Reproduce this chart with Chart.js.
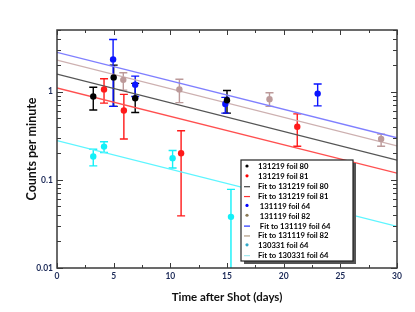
<!DOCTYPE html>
<html>
<head>
<meta charset="utf-8">
<script src="https://cdn.jsdelivr.net/npm/chart.js@4"></script>
<style>
  body { margin: 0; background: #fff; }
  canvas { display: block; }
</style>
</head>
<body>
<canvas id="decayChart" width="415" height="312"></canvas>
<script>
// data
const xTicks = [0, 5, 10, 15, 20, 25, 30];
const yTicks = [0.01, 0.1, 1];

const f80X = [3.2, 5.0, 6.9, 15.0];
const f80Y = [0.88, 1.45, 0.84, 0.80];
const f80Lo = [0.62, 0.68, 0.58, 0.57];
const f80Hi = [1.12, 2.0, 1.24, 1.03];

const f81X = [4.15, 5.9, 10.95, 21.2];
const f81Y = [1.06, 0.61, 0.20, 0.40];
const f81Lo = [0.74, 0.29, 0.039, 0.24];
const f81Hi = [1.40, 0.93, 0.36, 0.56];

const f64X = [4.95, 6.9, 14.85, 23.0];
const f64Y = [2.32, 1.20, 0.725, 0.95];
const f64Lo = [0.68, 0.88, 0.57, 0.69];
const f64Hi = [3.9, 1.5, 0.86, 1.22];

const f82X = [5.85, 10.8, 18.75, 28.6];
const f82Y = [1.36, 1.06, 0.82, 0.29];
const f82Lo = [1.04, 0.75, 0.68, 0.24];
const f82Hi = [1.64, 1.38, 0.97, 0.33];

const c64X = [3.2, 4.15, 10.2, 15.35];
const c64Y = [0.184, 0.238, 0.176, 0.038];
const c64Lo = [0.144, 0.204, 0.136, 0.001];
const c64Hi = [0.222, 0.27, 0.215, 0.078];

const fitX = [0, 30];
const fit80 = [1.58, 0.167];
const fit81 = [1.10, 0.119];
const fit64 = [2.79, 0.30];
const fit82 = [2.28, 0.243];
const fit130 = [0.279, 0.0296];

const FONT = 'Lato, "Open Sans", sans-serif';
const NAVY = '#1c2a58';

function pts(xs, ys) {
    return xs.map((x, i) => ({ x: x, y: ys[i] }));
}

function points(label, xs, ys, lo, hi, color, legendColor) {
    return {
        type: 'scatter', label: label, data: pts(xs, ys),
        lo: lo, hi: hi, barColor: color, legendColor: legendColor || color,
        backgroundColor: color, borderWidth: 0, pointRadius: 3.2, order: 1
    };
}

function fit(label, ys, color, legendColor) {
    return {
        type: 'line', label: label, data: pts(fitX, ys), isFit: true,
        legendColor: legendColor || color,
        borderColor: color, borderWidth: 1.3, pointRadius: 0, fill: false, order: 2
    };
}

// error bars, frame and inward ticks
const errorBars = {
    id: 'errorBars',
    beforeDatasetsDraw(chart) {
        const { ctx, chartArea: a, scales: { x, y } } = chart;
        ctx.save();
        ctx.beginPath();
        ctx.rect(a.left, a.top, a.right - a.left, a.bottom - a.top);
        ctx.clip();
        chart.data.datasets.forEach(ds => {
            if (!ds.lo) return;
            ctx.strokeStyle = ds.barColor;
            ctx.lineWidth = 1.4;
            ds.data.forEach((p, i) => {
                const px = x.getPixelForValue(p.x);
                const top = y.getPixelForValue(ds.hi[i]);
                const bot = y.getPixelForValue(ds.lo[i]);
                ctx.beginPath();
                ctx.moveTo(px, top); ctx.lineTo(px, bot);
                ctx.moveTo(px - 4, top); ctx.lineTo(px + 4, top);
                ctx.moveTo(px - 4, bot); ctx.lineTo(px + 4, bot);
                ctx.stroke();
            });
        });
        ctx.restore();
    },
    afterDatasetsDraw(chart) {
        const { ctx, chartArea: a, scales: { x, y } } = chart;
        ctx.save();
        ctx.strokeStyle = '#3a3a3a';
        ctx.lineWidth = 1.5;
        ctx.strokeRect(a.left, a.top, a.right - a.left, a.bottom - a.top);
        ctx.lineWidth = 1;
        ctx.beginPath();
        for (let v = 0; v <= 30; v += 2.5) {
            const px = Math.round(x.getPixelForValue(v)) + 0.5;
            const len = v % 5 === 0 ? 5 : 3;
            ctx.moveTo(px, a.bottom); ctx.lineTo(px, a.bottom - len);
            ctx.moveTo(px, a.top); ctx.lineTo(px, a.top + len);
        }
        for (let d = 0.01; d < 5; d *= 10) {
            for (let m = 1; m <= 9; m++) {
                const v = d * m;
                if (v > 5) break;
                const py = Math.round(y.getPixelForValue(v)) + 0.5;
                const len = m === 1 ? 6 : 4;
                ctx.moveTo(a.left, py); ctx.lineTo(a.left + len, py);
                ctx.moveTo(a.right, py); ctx.lineTo(a.right - len, py);
            }
        }
        ctx.stroke();
        ctx.restore();
    }
};

// legend box inside the plot
const boxLegend = {
    id: 'boxLegend',
    afterDraw(chart) {
        const ctx = chart.ctx;
        const left = 241, top = 160, w = 112, h = 101;
        ctx.save();
        ctx.fillStyle = '#555';
        ctx.fillRect(left + 3, top + 3, w, h);
        ctx.fillStyle = '#fff';
        ctx.fillRect(left, top, w, h);
        ctx.strokeStyle = '#222';
        ctx.lineWidth = 1.2;
        ctx.strokeRect(left, top, w, h);
        ctx.font = 'bold 7.7px ' + FONT;
        ctx.textBaseline = 'middle';
        chart.data.datasets.forEach((ds, i) => {
            const cy = top + 7 + i * 9.85;
            if (ds.isFit) {
                ctx.strokeStyle = ds.legendColor;
                ctx.lineWidth = 1.2;
                ctx.beginPath();
                ctx.moveTo(244, cy); ctx.lineTo(250, cy);
                ctx.stroke();
            } else {
                ctx.fillStyle = ds.legendColor;
                ctx.beginPath();
                ctx.arc(247, cy - 1, 1.6, 0, Math.PI * 2);
                ctx.fill();
            }
            ctx.fillStyle = '#000';
            ctx.fillText(ds.label, 258, cy);
        });
        ctx.restore();
    }
};

const ctx = document.getElementById('decayChart').getContext('2d');

new Chart(ctx, {
    data: {
        datasets: [
            points('131219 foil 80', f80X, f80Y, f80Lo, f80Hi, '#000000'),
            points('131219 foil 81', f81X, f81Y, f81Lo, f81Hi, '#ff1a1a', '#ff0000'),
            fit('Fit to 131219 foil 80', fit80, '#555555', '#444'),
            fit('Fit to 131219 foil 81', fit81, '#ff5050', '#ff3030'),
            points(' 131119 foil 64', f64X, f64Y, f64Lo, f64Hi, '#0a14ff', '#0000ff'),
            points(' 131119 foil 82', f82X, f82Y, f82Lo, f82Hi, '#bc9a9a', '#8a7a55'),
            fit(' Fit to 131119 foil 64', fit64, '#7f7fff', '#2030ff'),
            fit('Fit to 131119 foil 82', fit82, '#cdb0b0', '#b09a80'),
            points('130331 foil 64', c64X, c64Y, c64Lo, c64Hi, '#12f0f8', '#30a8c8'),
            fit('Fit to 130331 foil 64', fit130, '#5ef5ff', '#a0e8f0')
        ]
    },
    options: {
        responsive: false,
        animation: false,
        layout: { padding: { top: 30, right: 18, left: 0, bottom: 0 } },
        plugins: { legend: { display: false }, tooltip: { enabled: false } },
        scales: {
            x: {
                type: 'linear', min: 0, max: 30,
                grid: { display: false, drawTicks: false },
                border: { display: false },
                afterBuildTicks: s => { s.ticks = xTicks.map(v => ({ value: v })); },
                afterFit: s => { s.height = 44; },
                ticks: { color: NAVY, padding: 3, maxRotation: 0, font: { family: FONT, size: 8.5, weight: 'bold' } },
                title: {
                    display: true, text: 'Time after Shot (days)', color: '#111',
                    font: { family: FONT, size: 11.5, weight: 'bold' }, padding: { top: 0, bottom: 8 }
                }
            },
            y: {
                type: 'logarithmic', min: 0.01, max: 5,
                grid: { display: false, drawTicks: false },
                border: { display: false },
                afterBuildTicks: s => { s.ticks = yTicks.map(v => ({ value: v })); },
                afterFit: s => { s.width = 57; },
                ticks: {
                    color: NAVY, padding: 4,
                    font: { family: FONT, size: 8.5, weight: 'bold' },
                    callback: v => String(v)
                },
                title: {
                    display: true, text: 'Counts per minute', color: '#111',
                    font: { family: FONT, size: 12.5, weight: 'bold' }, padding: { top: 24, bottom: 0 }
                }
            }
        }
    },
    plugins: [errorBars, boxLegend]
});
</script>
</body>
</html>
